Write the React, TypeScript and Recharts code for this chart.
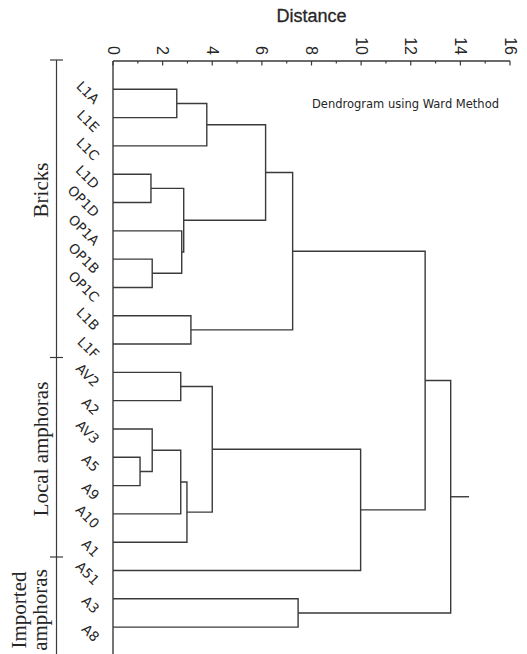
import React from "react";
import { ComposedChart, Scatter, XAxis, YAxis } from "recharts";

const leaves = [
  "L1A", "L1E", "L1C", "L1D", "OP1D", "OP1A", "OP1B", "OP1C", "L1B", "L1F",
  "AV2", "A2", "AV3", "A5", "A9", "A10", "A1", "A51", "A3", "A8",
];

// each merge joins two clusters: ids below 20 are leaves, merge k gets id 20 + k
const mergePairs: [number, number][] = [
  [13, 14], [3, 4], [6, 7], [12, 20], [0, 1], [10, 11], [23, 15], [5, 22], [21, 27], [26, 16],
  [8, 9], [24, 2], [25, 29], [31, 28], [33, 30], [18, 19], [32, 17], [34, 36], [37, 35],
];
const mergeHeights = [
  1.09, 1.53, 1.58, 1.58, 2.57, 2.73, 2.73, 2.77, 2.85, 2.98,
  3.14, 3.78, 4.0, 6.15, 7.24, 7.46, 9.98, 12.58, 13.61,
];
const rootTail = 14.35;

const distanceTicks = [0, 1, 2, 3, 4, 5, 6, 7, 8, 9, 10, 11, 12, 13, 14, 15, 16];
const leafTicks = leaves.map((_, i) => i);

const LINE = "#3a3a3a";
const TEXT = "#262626";

type Pt = { x: number; y: number };

function buildLinks() {
  const nodes: Pt[] = leaves.map((_, i) => ({ x: 0, y: i }));
  const links: Pt[][] = [];
  mergePairs.forEach(([a, b], k) => {
    const h = mergeHeights[k];
    const na = nodes[a];
    const nb = nodes[b];
    links.push([
      { x: na.x, y: na.y },
      { x: h, y: na.y },
      { x: h, y: nb.y },
      { x: nb.x, y: nb.y },
    ]);
    nodes.push({ x: h, y: (na.y + nb.y) / 2 });
  });
  const root = nodes[nodes.length - 1];
  links.push([{ x: root.x, y: root.y }, { x: rootTail, y: root.y }]);
  return links;
}

const links = buildLinks();

function DistanceTick(props: any) {
  const { x, y, payload } = props;
  const major = payload.value % 2 === 0;
  return (
    <g>
      <line x1={x} y1={y} x2={x} y2={y + (major ? 4.5 : 2.5)} stroke={LINE} strokeWidth={1.2} />
      {major && (
        <text
          x={x}
          y={y - 6}
          transform={`rotate(90 ${x} ${y - 6})`}
          textAnchor="end"
          dominantBaseline="central"
          fontFamily="'Liberation Sans', Arial, sans-serif"
          fontSize={16}
          fill={TEXT}
        >
          {payload.value}
        </text>
      )}
    </g>
  );
}

function LeafTick(props: any) {
  const { x, y, payload } = props;
  const ax = x - 16;
  const ay = y + 12;
  return (
    <text
      x={ax}
      y={ay}
      transform={`rotate(45 ${ax} ${ay})`}
      textAnchor="end"
      dominantBaseline="central"
      fontFamily="'DejaVu Sans', sans-serif"
      fontSize={13.5}
      fill={TEXT}
    >
      {leaves[payload.value]}
    </text>
  );
}

export default function App() {
  const W = 527;
  const H = 654;
  const serif = "'Liberation Serif', 'Times New Roman', serif";
  return (
    <div style={{ position: "absolute", left: 0, top: 0, width: W, height: H, background: "#fff" }}>
      <ComposedChart width={W} height={H} margin={{ top: 0, right: 17, bottom: 0, left: 0 }}>
        <XAxis
          type="number"
          dataKey="x"
          orientation="top"
          domain={[0, 16]}
          ticks={distanceTicks}
          interval={0}
          height={61}
          tickSize={0}
          tickMargin={0}
          tickLine={false}
          axisLine={{ stroke: LINE, strokeWidth: 1.4 }}
          tick={(p: any) => <DistanceTick {...p} />}
          allowDataOverflow
        />
        <YAxis
          type="number"
          dataKey="y"
          domain={[-1, 19.95]}
          reversed
          ticks={leafTicks}
          interval={0}
          width={113}
          tickSize={0}
          tickMargin={0}
          tickLine={false}
          axisLine={{ stroke: LINE, strokeWidth: 1.4 }}
          tick={(p: any) => <LeafTick {...p} />}
          allowDataOverflow
        />
        {links.map((pts, i) => (
          <Scatter
            key={i}
            data={pts}
            line={{ stroke: LINE, strokeWidth: 1.4 }}
            shape={() => <g />}
            isAnimationActive={false}
          />
        ))}
      </ComposedChart>
      <svg
        width={W}
        height={H}
        style={{ position: "absolute", left: 0, top: 0, pointerEvents: "none" }}
      >
        <text
          x={311.5}
          y={16}
          textAnchor="middle"
          dominantBaseline="central"
          fontFamily="'Liberation Sans', Arial, sans-serif"
          fontSize={18}
          fill={TEXT}
          stroke={TEXT}
          strokeWidth={0.3}
        >
          Distance
        </text>
        <text
          x={312}
          y={104}
          dominantBaseline="central"
          fontFamily="'DejaVu Sans', sans-serif"
          fontSize={11.5}
          fill={TEXT}
        >
          Dendrogram using Ward Method
        </text>
        <line x1={56.5} y1={60} x2={56.5} y2={H} stroke={LINE} strokeWidth={1.2} />
        {[60, 357.5, 557].map((ty) => (
          <line key={ty} x1={50} y1={ty} x2={63} y2={ty} stroke={LINE} strokeWidth={1.2} />
        ))}
        <text x={41} y={190} transform="rotate(-90 41 190)" textAnchor="middle" dominantBaseline="central" fontFamily={serif} fontSize={21} fill={TEXT}>
          Bricks
        </text>
        <text x={41} y={449} transform="rotate(-90 41 449)" textAnchor="middle" dominantBaseline="central" fontFamily={serif} fontSize={21} fill={TEXT}>
          Local amphoras
        </text>
        <text x={19} y={610} transform="rotate(-90 19 610)" textAnchor="middle" dominantBaseline="central" fontFamily={serif} fontSize={21} fill={TEXT}>
          Imported
        </text>
        <text x={40} y={610} transform="rotate(-90 40 610)" textAnchor="middle" dominantBaseline="central" fontFamily={serif} fontSize={21} fill={TEXT}>
          amphoras
        </text>
      </svg>
    </div>
  );
}
